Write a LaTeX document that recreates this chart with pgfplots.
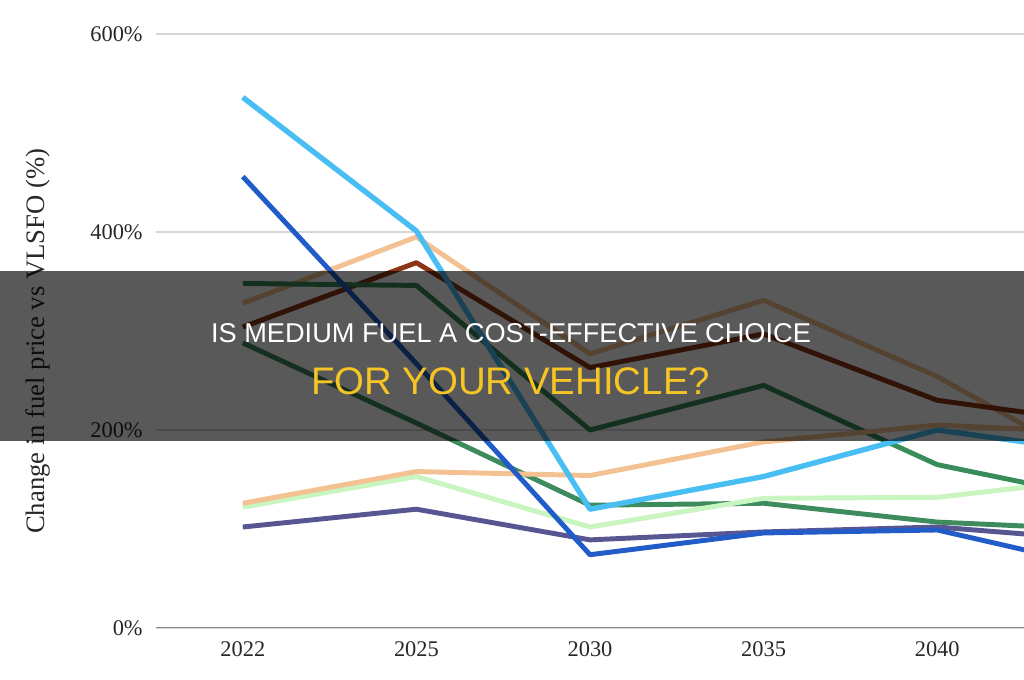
\documentclass[border=0pt]{standalone}
\usepackage{pgfplots}
\pgfplotsset{compat=1.18}
\usepackage{fontspec}
\setmainfont{Liberation Serif}
\newfontfamily\titlefont{Liberation Sans}
\definecolor{skyb}{RGB}{72,190,242}
\definecolor{darkb}{RGB}{34,92,200}
\definecolor{peach}{RGB}{244,194,146}
\definecolor{brownd}{RGB}{140,52,20}
\definecolor{greenu}{RGB}{56,140,90}
\definecolor{greenl}{RGB}{62,140,94}
\definecolor{lgreen}{RGB}{200,245,192}
\definecolor{slate}{RGB}{88,86,146}
\definecolor{ytitle}{RGB}{246,196,36}
\definecolor{txt}{RGB}{40,40,40}
\begin{document}
\begin{tikzpicture}
\path[use as bounding box] (0,0) rectangle (768pt,510pt);
\fill[white] (0,0) rectangle (768pt,510pt);
\begin{axis}[
  scale only axis, width=651pt, height=445.5pt,
  at={(117pt,39pt)}, anchor=south west,
  xmin=-0.5, xmax=4.5, ymin=0, ymax=600,
  axis line style={draw=none},
  major tick length=0pt,
  xtick={0,1,2,3,4},
  xticklabels={2022,2025,2030,2035,2040},
  ytick={0,200,400,600},
  yticklabel={\pgfmathprintnumber{\tick}\%},
  /pgf/number format/assume math mode=true,
  ymajorgrids, grid style={draw={rgb,255:red,215;green,215;blue,215}, line width=1.1pt},
  ticklabel style={font=\fontsize{16.8}{18}\selectfont, text=txt},
  yticklabel style={xshift=-6.5pt},
  xticklabel style={yshift=-6.5pt},
  every axis plot/.append style={line width=3.7pt, line join=round, mark=none},
]
\draw[line width=1.5pt, draw={rgb,255:red,140;green,140;blue,140}] (axis cs:-0.5,0) -- (axis cs:4.5,0);
% upper peach
\addplot[peach] coordinates {(0,328) (1,395) (2,277) (3,331) (4,254) (5,156)};
% dark brown
\addplot[brownd] coordinates {(0,304) (1,369) (2,263) (3,297) (4,230) (5,206)};
% upper green
\addplot[greenu] coordinates {(0,348) (1,346) (2,200) (3,245) (4,165) (5,129)};
% lower green
\addplot[greenl] coordinates {(0,288) (1,207) (2,124) (3,126) (4,107) (5,99)};
% light green
\addplot[lgreen] coordinates {(0,122) (1,153) (2,102) (3,131) (4,132) (5,152)};
% lower peach
\addplot[peach] coordinates {(0,126) (1,158) (2,154) (3,188) (4,205) (5,197)};
% slate
\addplot[slate] coordinates {(0,102) (1,120) (2,89) (3,97) (4,102) (5,88)};
% dark blue
\addplot[darkb] coordinates {(0,456) (1,267) (2,74) (3,96) (4,99) (5,59)};
% sky blue
\addplot[skyb, line width=4pt] coordinates {(0,536) (1,401) (2,120) (3,153) (4,200) (5,176)};
\end{axis}
\node[rotate=90, text=txt, font=\fontsize{20}{22}\selectfont] at (28.5pt,254pt) {Change in fuel price vs VLSFO (\%)};
\fill[black, opacity=0.65] (0,179.25pt) rectangle (768pt,306.75pt);
\node[anchor=base, text=white, font=\titlefont\fontsize{20.4}{22}\selectfont, inner sep=0pt] at (383.25pt,252.75pt) {IS MEDIUM FUEL A COST-EFFECTIVE CHOICE};
\node[anchor=base, text=ytitle, font=\titlefont\fontsize{28.8}{30}\selectfont, inner sep=0pt] at (382.9pt,213.75pt) {FOR YOUR VEHICLE?};
\end{tikzpicture}
\end{document}
